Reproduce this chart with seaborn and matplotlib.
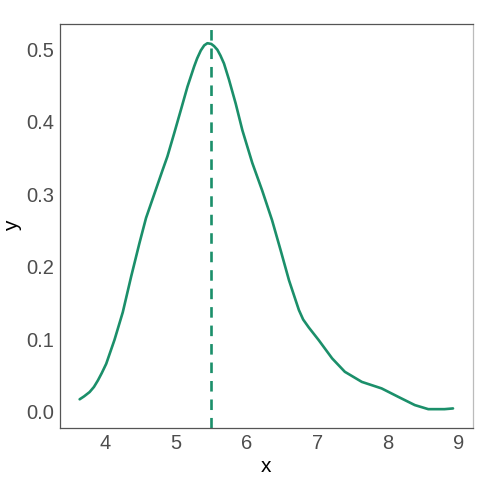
import matplotlib
matplotlib.use("Agg")
import matplotlib.pyplot as plt
import seaborn as sns
import pandas as pd

x_vals = [3.638, 3.70, 3.779, 3.84, 3.896, 3.95, 4.014, 4.131, 4.248, 4.366,
          4.483, 4.577, 4.694, 4.811, 4.88, 4.976, 5.07, 5.163, 5.258, 5.30,
          5.352, 5.40, 5.445, 5.50, 5.54, 5.586, 5.63, 5.68, 5.75, 5.845,
          5.94, 6.08, 6.22, 6.36, 6.48, 6.60, 6.74, 6.80, 6.88, 7.02,
          7.21, 7.39, 7.63, 7.91, 8.145, 8.38, 8.57, 8.80, 8.92]
y_vals = [0.017, 0.021, 0.027, 0.034, 0.043, 0.053, 0.066, 0.099, 0.137, 0.186,
          0.232, 0.267, 0.300, 0.333, 0.352, 0.384, 0.416, 0.448, 0.476, 0.487,
          0.498, 0.505, 0.508, 0.507, 0.504, 0.499, 0.491, 0.480, 0.458, 0.425,
          0.388, 0.343, 0.305, 0.264, 0.223, 0.181, 0.140, 0.127, 0.116, 0.0986,
          0.0734, 0.0549, 0.041, 0.032, 0.0204, 0.009, 0.0034, 0.0034, 0.0044]
peak_x = 5.5
x_ticks = [4, 5, 6, 7, 8, 9]
y_ticks = [0.0, 0.1, 0.2, 0.3, 0.4, 0.5]

sns.set_theme(style="white")
plt.rcParams['font.family'] = ['Liberation Sans', 'DejaVu Sans']

df = pd.DataFrame({"x": x_vals, "y": y_vals})
color = "#1b8f6a"

fig = plt.figure(figsize=(4.8, 4.8), dpi=100)
ax = fig.add_axes([0.125, 0.108, 0.86, 0.842])
sns.lineplot(data=df, x="x", y="y", ax=ax, color=color, linewidth=1.9, sort=False)
ax.axvline(peak_x, color=color, linewidth=1.9, linestyle=(0, (4, 3)))

ax.set_xlim(3.36, 9.2)
ax.set_ylim(-0.0228, 0.5345)
ax.set_xticks(x_ticks)
ax.set_xticklabels([str(t) for t in x_ticks])
ax.set_yticks(y_ticks)
ax.set_yticklabels([f"{t:.1f}" for t in y_ticks])
ax.tick_params(axis="both", length=0, labelsize=14.5, labelcolor="#4d4d4d", pad=4)
ax.set_xlabel("x", fontsize=15, color="black", labelpad=3)
ax.set_ylabel("y", fontsize=15, color="black", labelpad=3)
for s in ax.spines.values():
    s.set_color("#555555")
    s.set_linewidth(0.9)
ax.spines["right"].set_color("#bbbbbb")
ax.grid(False)

fig.savefig("out.png", dpi=100)
